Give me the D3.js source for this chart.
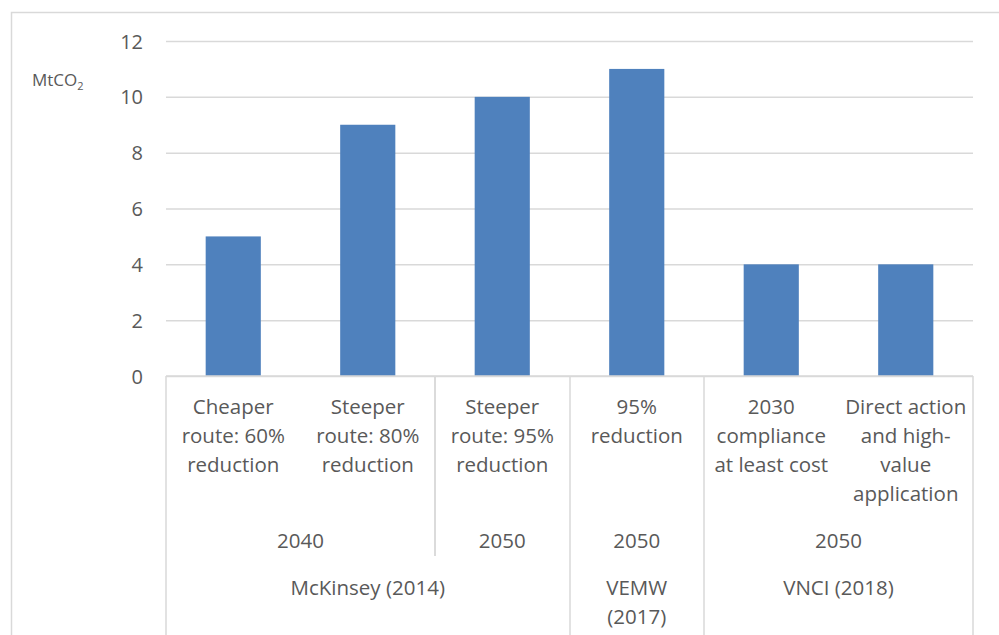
<!DOCTYPE html>
<html>
<head>
<meta charset="utf-8">
<script src="https://cdn.jsdelivr.net/npm/d3@7"></script>
<style>
  html, body { margin: 0; padding: 0; background: #fff; }
  svg { display: block; }
  text { font-family: "Open Sans", "Liberation Sans", sans-serif; fill: #595959; }
</style>
</head>
<body>
<svg id="chart" width="999" height="635"></svg>
<script>
// Scenario labels (one entry per bar, lines split with "|")
const categories = [
  "Cheaper|route: 60%|reduction",
  "Steeper|route: 80%|reduction",
  "Steeper|route: 95%|reduction",
  "95%|reduction",
  "2030|compliance|at least cost",
  "Direct action|and high-|value|application"
];
// CO2 reduction per scenario, MtCO2
const values = [5, 9, 10, 11, 4, 4];
// Target year groups: label, first and last category index
const yearGroups = [
  { label: "2040", from: 0, to: 1 },
  { label: "2050", from: 2, to: 2 },
  { label: "2050", from: 3, to: 3 },
  { label: "2050", from: 4, to: 5 }
];
// Study groups
const sourceGroups = [
  { label: "McKinsey (2014)", from: 0, to: 2 },
  { label: "VEMW|(2017)", from: 3, to: 3 },
  { label: "VNCI (2018)", from: 4, to: 5 }
];
const yTicks = [0, 2, 4, 6, 8, 10, 12];

const svg = d3.select("#chart");
const plotL = 166, plotR = 973, plotT = 41, plotB = 376;
const gridColor = "#d9d9d9";
const labelSize = "20.5px";
const idx = d3.range(categories.length);

const x = d3.scaleBand().domain(idx).range([plotL, plotR])
  .paddingInner(0.59).paddingOuter(0.295);
const cell = d3.scaleBand().domain(idx).range([plotL, plotR]).padding(0);
const y = d3.scaleLinear().domain([0, 12]).range([plotB, plotT]);

// chart frame
svg.append("rect")
  .attr("x", 11.5).attr("y", 12.5).attr("width", 1000).attr("height", 700)
  .attr("fill", "none").attr("stroke", gridColor).attr("stroke-width", 1.5);

// value axis with gridlines
const yAxis = d3.axisLeft(y).tickValues(yTicks).tickSize(0).tickPadding(0);
const gy = svg.append("g").attr("transform", `translate(${plotL},0)`).call(yAxis);
gy.select(".domain").remove();
gy.selectAll(".tick text")
  .attr("x", -23).attr("dy", "0.35em")
  .style("font-size", "20px").style("fill", "#595959")
  .style("font-family", "'Open Sans', 'Liberation Sans', sans-serif");
gy.selectAll(".tick line")
  .attr("x2", plotR - plotL).attr("stroke", gridColor).attr("stroke-width", 1.5);

// unit label
const unit = svg.append("text").attr("x", 32).attr("y", 86).style("font-size", "17px");
unit.append("tspan").text("MtCO");
unit.append("tspan").text("2").attr("dy", 4).style("font-size", "11px");

// bars
svg.append("g").selectAll("rect").data(values).join("rect")
  .attr("x", (d, i) => x(i))
  .attr("width", x.bandwidth())
  .attr("y", d => y(d))
  .attr("height", d => y(0) - y(d))
  .attr("fill", "#4f81bd");

// category axis line
svg.append("line")
  .attr("x1", plotL).attr("x2", plotR).attr("y1", plotB).attr("y2", plotB)
  .attr("stroke", gridColor).attr("stroke-width", 1.5);

const lineH = 29;
function multiLine(g, label, cx, y0) {
  const t = g.append("text").attr("text-anchor", "middle").style("font-size", labelSize);
  label.split("|").forEach((s, k) => {
    t.append("tspan").attr("x", cx).attr("y", y0 + k * lineH).text(s);
  });
}

// level 1: scenario names
const labels = svg.append("g");
categories.forEach((c, i) => multiLine(labels, c, cell(i) + cell.bandwidth() / 2, 414));

// group boundaries: year groups end at the study row, study groups run to the bottom
const span = g => [cell(g.from), cell(g.to) + cell.bandwidth()];
const level2Bottom = 556, frameBottom = 640;
const seps = svg.append("g").attr("stroke", gridColor).attr("stroke-width", 1.5);
const sourceEdges = new Set();
sourceGroups.forEach(g => span(g).forEach(v => sourceEdges.add(Math.round(v))));
yearGroups.forEach(g => span(g).forEach(v => {
  if (!sourceEdges.has(Math.round(v))) {
    seps.append("line").attr("x1", v).attr("x2", v).attr("y1", plotB).attr("y2", level2Bottom);
  }
}));
sourceEdges.forEach(v => {
  seps.append("line").attr("x1", v).attr("x2", v).attr("y1", plotB).attr("y2", frameBottom);
});

// level 2: target year
yearGroups.forEach(g => {
  const [a, b] = span(g);
  multiLine(labels, g.label, (a + b) / 2, 548);
});
// level 3: study
sourceGroups.forEach(g => {
  const [a, b] = span(g);
  multiLine(labels, g.label, (a + b) / 2, 595);
});
</script>
</body>
</html>
